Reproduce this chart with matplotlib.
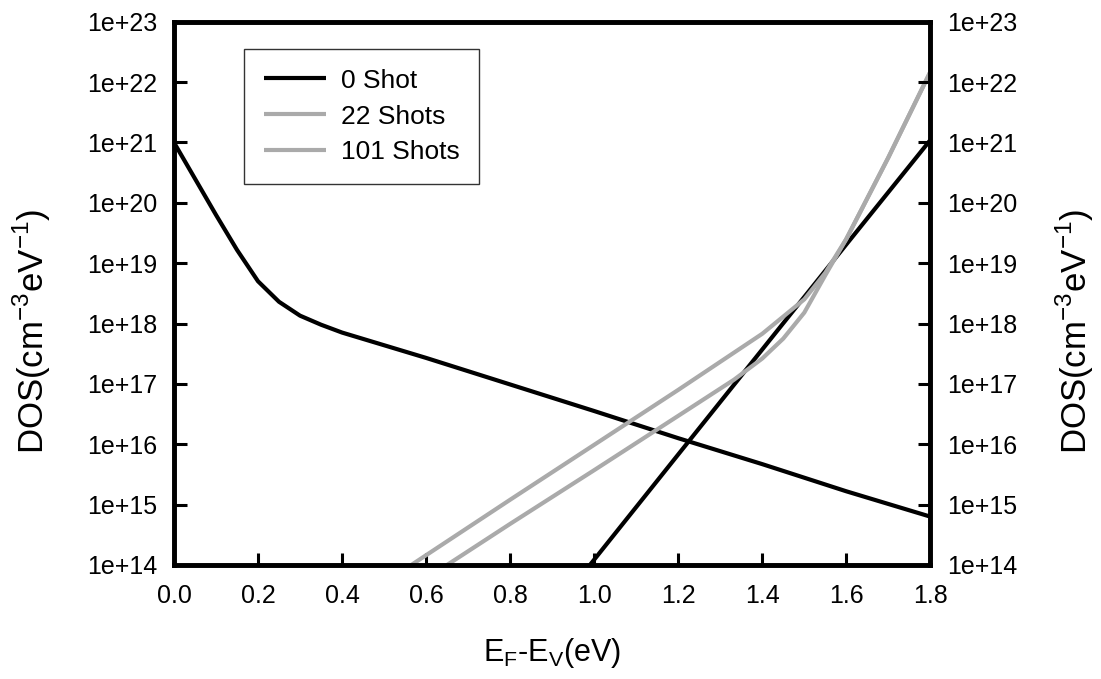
import matplotlib
matplotlib.use('Agg')
import matplotlib.pyplot as plt
import matplotlib.ticker as ticker
import numpy as np

plt.rc('font', family='Liberation Sans')
matplotlib.rcParams['mathtext.fontset'] = 'custom'
matplotlib.rcParams['mathtext.rm'] = 'Liberation Sans'

# 0 Shot: tail states falling from the valence band edge (log10 of DOS)
e_tail = [0.0, 0.05, 0.1, 0.15, 0.2, 0.25, 0.3, 0.35, 0.4, 0.6, 0.8, 1.0, 1.2, 1.4, 1.6, 1.8]
dos_tail = [21.0, 20.4, 19.8, 19.22, 18.7, 18.36, 18.13, 17.98, 17.85, 17.43, 16.99, 16.55, 16.1, 15.67, 15.22, 14.8]

# 0 Shot: rising branch
e_rise0 = [0.99, 1.2, 1.4, 1.6, 1.8]
dos_rise0 = [14.0, 15.83, 17.57, 19.31, 21.04]

# 22 Shots
e_22 = [0.65, 0.8, 1.0, 1.2, 1.333, 1.4, 1.45, 1.5, 1.55, 1.6, 1.7, 1.8]
dos_22 = [14.0, 14.68, 15.57, 16.47, 17.07, 17.42, 17.75, 18.18, 18.8, 19.4, 20.75, 22.17]

# 101 Shots
e_101 = [0.565, 0.8, 1.0, 1.2, 1.4, 1.5, 1.55, 1.6, 1.7, 1.8]
dos_101 = [14.0, 15.08, 15.99, 16.9, 17.83, 18.4, 18.84, 19.4, 20.75, 22.17]

labels = ['0 Shot', '22 Shots', '101 Shots']
colors = ['#000000', '#aaaaaa', '#aaaaaa']

fig = plt.figure(figsize=(11.01, 6.79), dpi=100)
ax = fig.add_axes([0.158, 0.168, 0.687, 0.8])

ax.plot(e_tail, 10 ** np.array(dos_tail), color=colors[0], lw=3, label=labels[0], solid_capstyle='butt')
ax.plot(e_rise0, 10 ** np.array(dos_rise0), color=colors[0], lw=3, solid_capstyle='butt')
ax.plot(e_22, 10 ** np.array(dos_22), color=colors[1], lw=3, label=labels[1], solid_capstyle='butt')
ax.plot(e_101, 10 ** np.array(dos_101), color=colors[2], lw=3, label=labels[2], solid_capstyle='butt')

ax.set_yscale('log')
ax.set_xlim(0, 1.8)
ax.set_ylim(1e14, 1e23)

def sci(v, pos):
    return '1e+%d' % int(round(np.log10(v)))

ax.set_xticks(np.arange(0, 1.81, 0.2))
ax.xaxis.set_major_formatter(ticker.FormatStrFormatter('%.1f'))
ax.yaxis.set_major_locator(ticker.LogLocator(base=10, numticks=20))
ax.yaxis.set_minor_locator(ticker.NullLocator())
ax.yaxis.set_major_formatter(ticker.FuncFormatter(sci))

# twin axis on the right, same scale
ax2 = ax.twinx()
ax2.set_yscale('log')
ax2.set_ylim(1e14, 1e23)
ax2.yaxis.set_major_locator(ticker.LogLocator(base=10, numticks=20))
ax2.yaxis.set_minor_locator(ticker.NullLocator())
ax2.yaxis.set_major_formatter(ticker.FuncFormatter(sci))

for a in [ax, ax2]:
    for sp in a.spines.values():
        sp.set_linewidth(3.3)
ax.tick_params(axis='both', direction='in', length=9, width=2.2, labelsize=18)
ax.tick_params(axis='y', pad=12)
ax.tick_params(axis='x', pad=14)
ax2.tick_params(axis='y', direction='in', length=9, width=2.2, labelsize=18, pad=12)

ylab = r'DOS(cm$^{\mathregular{-3}}$eV$^{\mathregular{-1}}$)'
ax.set_ylabel(ylab, fontsize=25)
ax2.set_ylabel(ylab, fontsize=25, rotation=90)
ax.yaxis.set_label_coords(-0.160, 0.43)
ax2.yaxis.set_label_coords(1.163, 0.43)
ax.set_xlabel(r'$\mathregular{E_F}$-$\mathregular{E_V}$(eV)', fontsize=22, labelpad=20)

leg = ax.legend(loc='upper left', bbox_to_anchor=(0.0926, 0.95), borderaxespad=0,
                fontsize=19, frameon=True, fancybox=False, edgecolor='black',
                handlelength=2.35, handletextpad=0.57, labelspacing=0.45,
                borderpad=0.75)
leg.get_frame().set_linewidth(1.0)

plt.savefig('out.png', dpi=100)
